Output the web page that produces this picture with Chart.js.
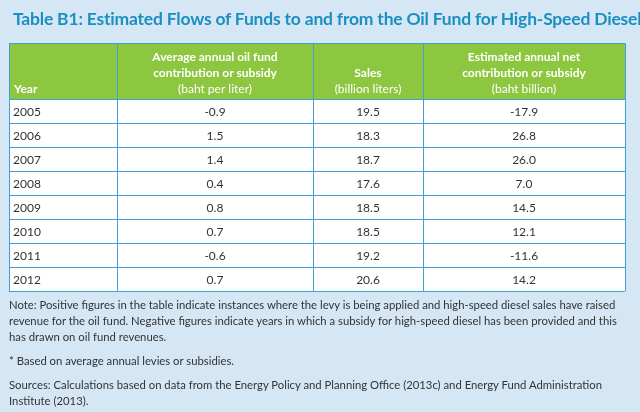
<!DOCTYPE html>
<html><head><meta charset="utf-8">
<script src="https://cdn.jsdelivr.net/npm/chart.js@4.4.0/dist/chart.umd.min.js"></script>
<style>
html,body{margin:0;padding:0;background:#d5e7f5;width:640px;height:412px;overflow:hidden;font-family:Lato,"Open Sans",sans-serif}
#title{position:absolute;left:13px;top:8px;font-size:17.5px;font-weight:bold;color:#1b8fc2;letter-spacing:-0.2px;white-space:nowrap}
#wrap{position:absolute;left:0;top:0;width:640px;height:412px}
.note{position:absolute;left:9px;width:625px;font-size:11.3px;line-height:16px;color:#333}
</style></head><body>
<div id="wrap"><canvas id="c"></canvas></div>
<div id="title">Table B1: Estimated Flows of Funds to and from the Oil Fund for High-Speed Diesel*</div>
<div class="note" style="top:297px">Note: Positive figures in the table indicate instances where the levy is being applied and high-speed diesel sales have raised revenue for the oil fund. Negative figures indicate years in which a subsidy for high-speed diesel has been provided and this has drawn on oil fund revenues.</div>
<div class="note" style="top:353px">* Based on average annual levies or subsidies.</div>
<div class="note" style="top:377px">Sources: Calculations based on data from the Energy Policy and Planning Office (2013c) and Energy Fund Administration Institute (2013).</div>
<script>
const years = ['2005','2006','2007','2008','2009','2010','2011','2012'];
const contribution = ['-0.9','1.5','1.4','0.4','0.8','0.7','-0.6','0.7'];
const sales = ['19.5','18.3','18.7','17.6','18.5','18.5','19.2','20.6'];
const netFlow = ['-17.9','26.8','26.0','7.0','14.5','12.1','-11.6','14.2'];
const headers = [
  ['Year'],
  ['Average annual oil fund', 'contribution or subsidy', '(baht per liter)'],
  ['Sales', '(billion liters)'],
  ['Estimated annual net', 'contribution or subsidy', '(baht billion)']
];

// column edges in x-scale units (0..616 table width)
const colEdges = [0, 108, 304, 414, 616];
const colCenter = i => (colEdges[i] + colEdges[i + 1]) / 2;

function colData(vals, i) {
    return vals.map((v, r) => ({x: i === 0 ? colEdges[0] + 4 : colCenter(i), y: years[r], t: v}));
}

const tablePlugin = {
    id: 'table',
    beforeDatasetsDraw(chart) {
        const {ctx, chartArea: a, scales: {x, y}} = chart;
        ctx.save();
        // body
        ctx.fillStyle = '#ffffff';
        ctx.fillRect(a.left, a.top, a.right - a.left, a.bottom - a.top);
        // header
        const hTop = 43;
        ctx.fillStyle = '#8dc63f';
        ctx.fillRect(a.left, hTop, a.right - a.left, a.top - hTop);
        ctx.strokeStyle = '#3fa0d8';
        ctx.lineWidth = 1;
        // horizontal lines
        const step = (a.bottom - a.top) / years.length;
        for (let r = 0; r <= years.length; r++) {
            const yy = Math.round(a.top + r * step) + 0.5;
            ctx.beginPath(); ctx.moveTo(a.left, yy); ctx.lineTo(a.right, yy); ctx.stroke();
        }
        ctx.beginPath(); ctx.moveTo(a.left, hTop + 0.5); ctx.lineTo(a.right, hTop + 0.5); ctx.stroke();
        colEdges.forEach(e => {
            const xx = Math.round(x.getPixelForValue(e)) + 0.5;
            ctx.beginPath(); ctx.moveTo(xx, hTop); ctx.lineTo(xx, a.bottom); ctx.stroke();
        });
        // header text
        ctx.fillStyle = '#ffffff';
        ctx.textBaseline = 'alphabetic';
        headers.forEach((lines, i) => {
            const n = lines.length;
            lines.forEach((ln, k) => {
                const baseline = a.top - 6 - (n - 1 - k) * 16;
                const last = k === n - 1 && i > 0;
                ctx.font = (last ? '' : 'bold ') + '12px Lato, sans-serif';
                if (i === 0) {
                    ctx.textAlign = 'left';
                    ctx.fillText(ln, x.getPixelForValue(colEdges[0] + 5), baseline);
                } else {
                    ctx.textAlign = 'center';
                    ctx.fillText(ln, x.getPixelForValue(colCenter(i)), baseline);
                }
            });
        });
        ctx.restore();
    },
    afterDatasetsDraw(chart) {
        const {ctx} = chart;
        ctx.save();
        ctx.fillStyle = '#333333';
        ctx.font = '12px Lato, sans-serif';
        ctx.textBaseline = 'middle';
        chart.data.datasets.forEach((ds, di) => {
            ctx.textAlign = di === 0 ? 'left' : 'center';
            chart.getDatasetMeta(di).data.forEach((pt, k) => {
                ctx.fillText(ds.data[k].t, pt.x, pt.y + 1);
            });
        });
        ctx.restore();
    }
};

new Chart(document.getElementById('c'), {
    type: 'scatter',
    data: {
        datasets: [
            {data: colData(years, 0)},
            {data: colData(contribution, 1)},
            {data: colData(sales, 2)},
            {data: colData(netFlow, 3)}
        ].map(d => Object.assign(d, {pointRadius: 0, pointHoverRadius: 0}))
    },
    options: {
        responsive: true,
        maintainAspectRatio: false,
        animation: false,
        events: [],
        layout: {padding: {left: 9, right: 15, top: 99, bottom: 121}},
        plugins: {legend: {display: false}, tooltip: {enabled: false}},
        scales: {
            x: {type: 'linear', min: 0, max: 616, display: false},
            y: {type: 'category', labels: years, offset: true, display: false}
        }
    },
    plugins: [tablePlugin]
});
</script>
</body></html>
